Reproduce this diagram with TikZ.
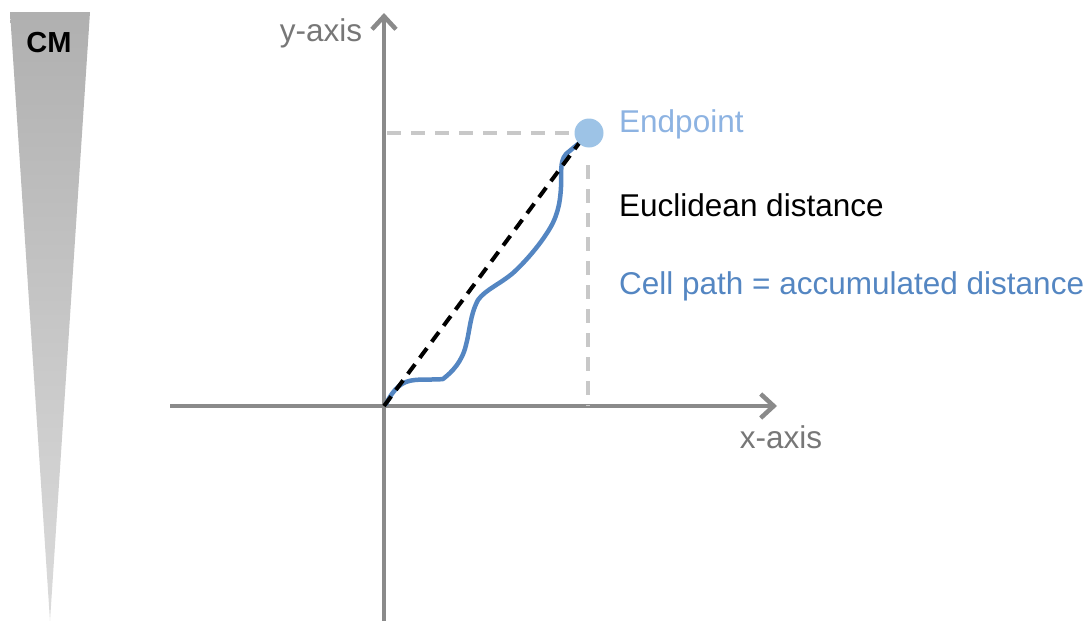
\documentclass[tikz,border=0pt]{standalone}
\usepackage{fontspec}
\setmainfont{Liberation Sans}
\usetikzlibrary{arrows.meta}
\definecolor{axisgray}{HTML}{8A8A8A}
\definecolor{labgray}{HTML}{777777}
\definecolor{dashgray}{HTML}{C8C8C8}
\definecolor{endblue}{HTML}{9DC3E6}
\definecolor{endtext}{HTML}{8DB3E2}
\definecolor{pathblue}{HTML}{5486C2}
\begin{document}
\begin{tikzpicture}[x=1pt,y=-1pt,
  axis/.style={draw=axisgray,line width=4pt,-{Straight Barb[length=13pt,width=24pt,line width=4.5pt]}},
  guide/.style={draw=dashgray,line width=4.5pt,dash pattern=on 14pt off 10pt},
  lab/.style={font=\fontsize{31.5}{36}\selectfont,anchor=west,inner sep=0pt}]
\useasboundingbox (0,0) rectangle (1087,621);
% CM wedge
\shade[top color=gray!62,bottom color=gray!28] (10,12) -- (90,12) -- (50,621) -- cycle;
\node[font=\fontsize{29}{33}\selectfont\bfseries,inner sep=0pt] (cm) at (49,43) {CM};
% axes
\coordinate (o) at (384,406);
\coordinate (ybot) at (384,621);
\coordinate (ytop) at (384,13);
\coordinate (xl) at (170,406);
\coordinate (xr) at (777,406);
\draw[axis] (ybot) -- (ytop);
\draw[axis] (xl) -- (xr);
\node[lab,text=labgray,anchor=center] (ylab) at (321,33) {y-axis};
\node[lab,text=labgray,anchor=center] (xlab) at (781,437) {x-axis};
% guides
\coordinate (gh1) at (387,133);
\coordinate (gh2) at (574,133);
\coordinate (gv1) at (588,165);
\coordinate (gv2) at (588,406);
\draw[guide] (gh1) -- (gh2);
\draw[guide] (gv1) -- (gv2);
% cell path
\coordinate (ps) at (386,404);
\coordinate (pe) at (578,144);
\draw[pathblue,line width=4.5pt,line cap=round,line join=round]
  (ps) .. controls (394,388) and (402,381) .. (415,380)
  .. controls (425,379) and (435,380) .. (443,379)
  .. controls (452,372) and (462,362) .. (466,345)
  .. controls (470,330) and (470,315) .. (478,300)
  .. controls (485,290) and (500,284) .. (513,273)
  .. controls (525,262) and (538,247) .. (547,233)
  .. controls (557,218) and (560,205) .. (561,187)
  .. controls (562,175) and (559,162) .. (566,154)
  -- (pe);
% euclidean
\coordinate (ds) at (384,406);
\coordinate (de) at (580,142);
\draw[black,line width=4pt,dash pattern=on 12pt off 8pt] (ds) -- (de);
% endpoint
\node[circle,fill=endblue,minimum size=29pt,inner sep=0pt] (ep) at (589,133) {};
\node[lab,text=endtext] (eplab) at (619,124) {Endpoint};
\node[lab,text=black] (eu) at (619,205) {Euclidean distance};
\node[lab,text=pathblue] (cp) at (619,286) {Cell path = accumulated distance};
\end{tikzpicture}
\end{document}
